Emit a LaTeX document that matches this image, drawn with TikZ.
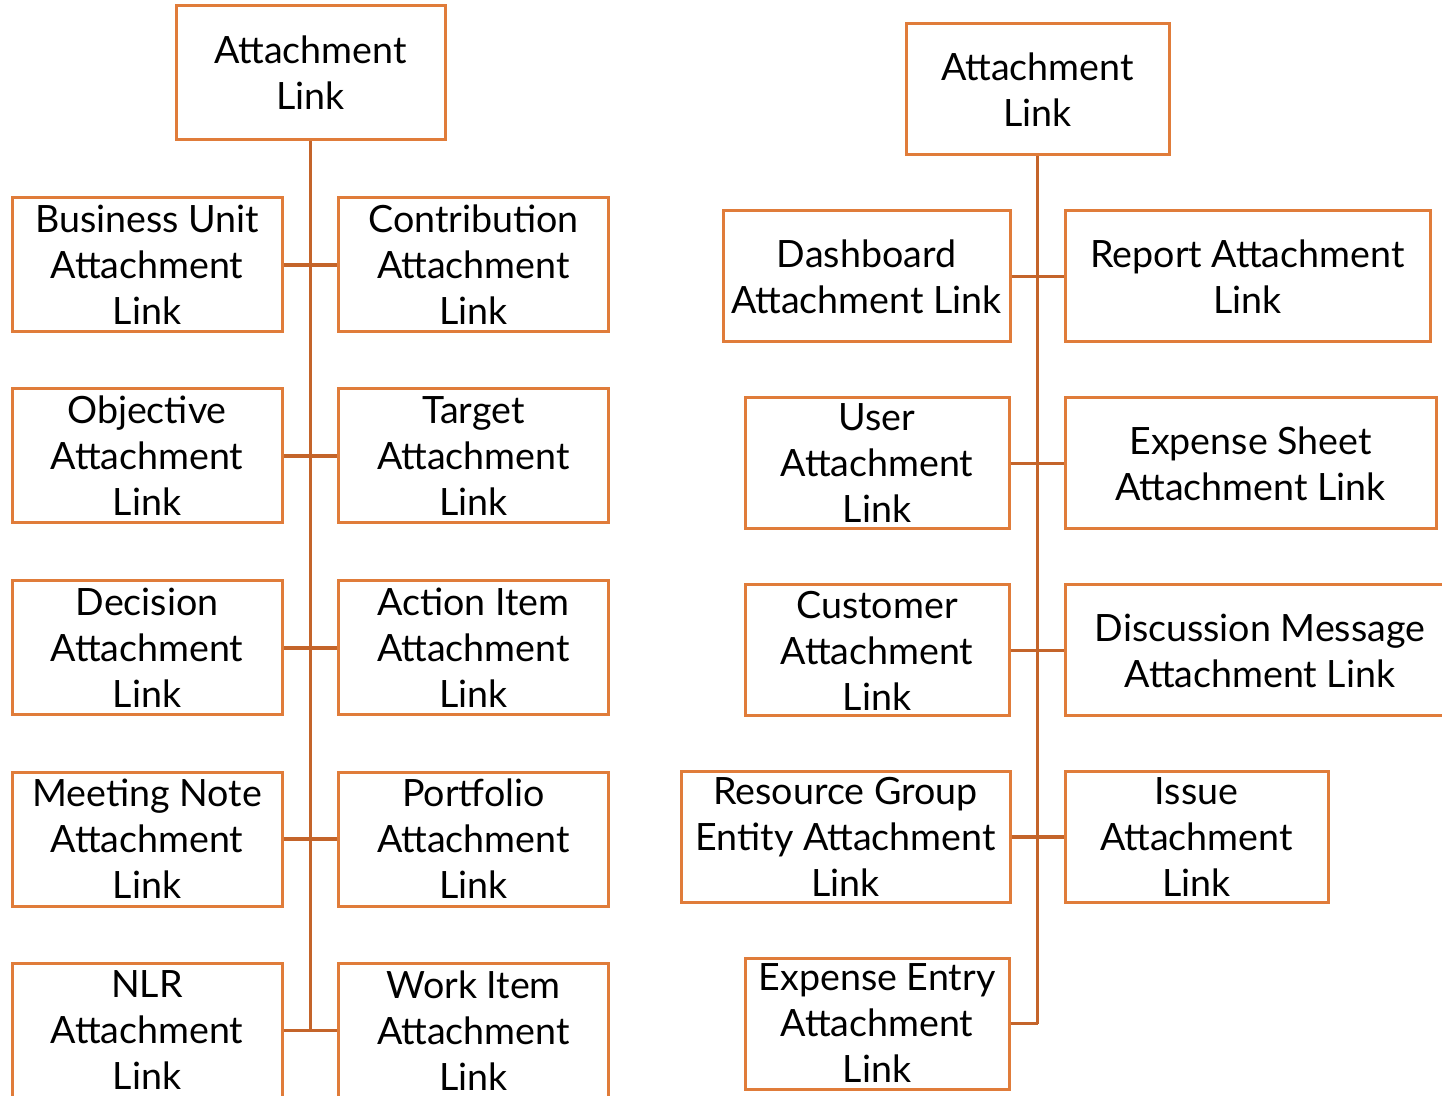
\documentclass[tikz,border=0pt]{standalone}
\usepackage{fontspec}
\setmainfont{Lato}
\definecolor{boxc}{RGB}{224,124,58}
\definecolor{linec}{RGB}{196,100,42}
\begin{document}
\begin{tikzpicture}[x=0.5pt,y=-0.5pt,
  bx/.style={draw=boxc, line width=1.5pt, fill=white, align=center, inner sep=0pt,
    font=\fontsize{18.8pt}{23pt}\selectfont},
  conn/.style={draw=linec, line width=1.7pt}]
\clip (0,0) rectangle (1442,1096);
\fill[white] (0,0) rectangle (1442,1096);
% left tree
\node[bx, minimum width=269*0.5pt, minimum height=134*0.5pt] (L0) at (310.5,73) {Attachment\\Link};
\tikzset{lb/.style={bx, minimum width=270*0.5pt, minimum height=134*0.5pt}}
\node[lb] (L1a) at (147,265) {Business Unit\\Attachment\\Link};
\node[lb] (L1b) at (473.5,265) {Contribution\\Attachment\\Link};
\node[lb] (L2a) at (147,456) {Objective\\Attachment\\Link};
\node[lb] (L2b) at (473.5,456) {Target\\Attachment\\Link};
\node[lb] (L3a) at (147,648) {Decision\\Attachment\\Link};
\node[lb] (L3b) at (473.5,648) {Action Item\\Attachment\\Link};
\node[lb] (L4a) at (147,839) {Meeting Note\\Attachment\\Link};
\node[lb] (L4b) at (473.5,839) {Portfolio\\Attachment\\Link};
\node[lb] (L5a) at (147,1030.5) {NLR\\Attachment\\Link};
\node[lb] (L5b) at (473.5,1030.5) {Work Item\\Attachment\\Link};
\draw[conn] (L0.south) -- (L0.south |- L5a.east);
\foreach \r in {1,2,3,4,5} \draw[conn] (L\r a.east) -- (L\r b.west);
% right tree
\node[bx, minimum width=263*0.5pt, minimum height=131*0.5pt] (R0) at (1037.5,89.5) {Attachment\\Link};
\tikzset{rb/.style={bx, minimum height=131*0.5pt}}
\node[rb, minimum width=287*0.5pt] (R1a) at (866.5,276.5) {Dashboard\\Attachment Link};
\node[rb, minimum width=365*0.5pt] (R1b) at (1247.5,276.5) {Report Attachment\\Link};
\node[rb, minimum width=264*0.5pt] (R2a) at (877,463.5) {User\\Attachment\\Link};
\node[rb, minimum width=371*0.5pt] (R2b) at (1250.5,463.5) {Expense Sheet\\Attachment Link};
\node[rb, minimum width=264*0.5pt] (R3a) at (877,650.5) {Customer\\Attachment\\Link};
\node[rb, minimum width=390*0.5pt] (R3b) at (1260,650.5) {Discussion Message\\Attachment Link};
\node[rb, minimum width=329*0.5pt] (R4a) at (845.5,837) {Resource Group\\Entity Attachment\\Link};
\node[rb, minimum width=263*0.5pt] (R4b) at (1196.5,837) {Issue\\Attachment\\Link};
\node[rb, minimum width=264*0.5pt] (R5a) at (877,1023.5) {Expense Entry\\Attachment\\Link};
\draw[conn] (R0.south) -- (R0.south |- R5a.east);
\foreach \r in {1,2,3,4} \draw[conn] (R\r a.east) -- (R\r b.west);
\draw[conn] (R5a.east) -- (R5a.east -| R0.south);
\end{tikzpicture}
\end{document}
